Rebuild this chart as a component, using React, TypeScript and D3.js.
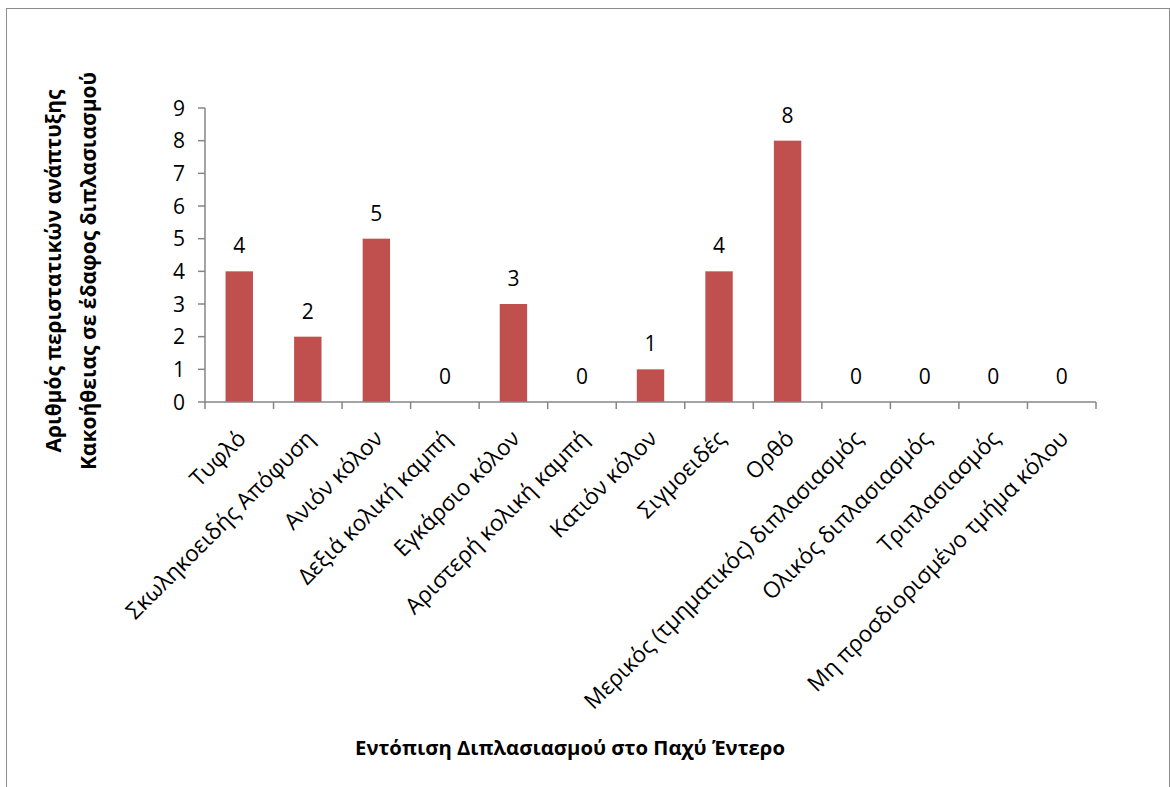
import React from "react";
import * as d3 from "d3";

// Duplication site along the large bowel and number of cases with malignancy
const categories: string[] = [
  "Τυφλό",
  "Σκωληκοειδής Απόφυση",
  "Ανιόν κόλον",
  "Δεξιά κολική καμπή",
  "Εγκάρσιο κόλον",
  "Αριστερή κολική καμπή",
  "Κατιόν κόλον",
  "Σιγμοειδές",
  "Ορθό",
  "Μερικός (τμηματικός) διπλασιασμός",
  "Ολικός διπλασιασμός",
  "Τριπλασιασμός",
  "Μη προσδιορισμένο τμήμα κόλου",
];
const cases: number[] = [4, 2, 5, 0, 3, 0, 1, 4, 8, 0, 0, 0, 0];
const yTicks: number[] = [0, 1, 2, 3, 4, 5, 6, 7, 8, 9];

const xTitle = "Εντόπιση Διπλασιασμού στο Παχύ Έντερο";
const yTitleLines = [
  "Αριθμός περιστατικών ανάπτυξης",
  "Κακοήθειας σε έδαφος διπλασιασμού",
];

const W = 1170;
const H = 787;
const plot = { left: 205, right: 1096, top: 108, bottom: 402 };
const FONT = "'Open Sans', 'Noto Sans', sans-serif";
const BAR = "#C0504D";
const AXIS = "#868686";

export default function App() {
  const x = d3
    .scaleBand<string>()
    .domain(categories)
    .range([plot.left, plot.right])
    .paddingInner(0.6)
    .paddingOuter(0.3);
  const y = d3.scaleLinear().domain([0, 9]).range([plot.bottom, plot.top]);
  const step = x.step();
  const x0 = plot.left;

  return (
    <svg
      width={W}
      height={H}
      style={{ position: "absolute", left: 0, top: 0, background: "#fff" }}
      fontFamily={FONT}
    >
      <rect x={6.5} y={8.5} width={1163} height={790} fill="#fff" stroke="#8c8c8c" strokeWidth={1} />

      {/* bars */}
      {categories.map((c, i) => (
        <rect
          key={c}
          x={x(c)}
          y={y(cases[i])}
          width={x.bandwidth()}
          height={plot.bottom - y(cases[i])}
          fill={BAR}
        />
      ))}

      {/* y axis */}
      <line x1={plot.left} x2={plot.left} y1={plot.top} y2={plot.bottom} stroke={AXIS} strokeWidth={1.5} />
      {yTicks.map((t) => (
        <g key={t}>
          <line x1={plot.left - 7} x2={plot.left} y1={y(t)} y2={y(t)} stroke={AXIS} strokeWidth={1.5} />
          <text x={plot.left - 20} y={y(t)} dy="0.36em" textAnchor="end" fontSize={21} fill="#000">
            {t}
          </text>
        </g>
      ))}

      {/* x axis */}
      <line x1={plot.left} x2={plot.right} y1={plot.bottom} y2={plot.bottom} stroke={AXIS} strokeWidth={1.5} />
      {d3.range(categories.length + 1).map((i) => (
        <line
          key={i}
          x1={x0 + i * step}
          x2={x0 + i * step}
          y1={plot.bottom}
          y2={plot.bottom + 7}
          stroke={AXIS}
          strokeWidth={1.5}
        />
      ))}

      {/* value labels */}
      {categories.map((c, i) => (
        <text
          key={c}
          x={(x(c) as number) + x.bandwidth() / 2}
          y={y(cases[i]) - 18}
          textAnchor="middle"
          fontSize={21}
          fill="#000"
        >
          {cases[i]}
        </text>
      ))}

      {/* category labels */}
      {categories.map((c) => {
        const cx = (x(c) as number) + x.bandwidth() / 2;
        return (
          <text
            key={c}
            transform={`translate(${cx + 8},${plot.bottom + 38}) rotate(-45)`}
            textAnchor="end"
            fontSize={22.5}
            fill="#000"
          >
            {c}
          </text>
        );
      })}

      {/* axis titles */}
      <text x={570} y={755} textAnchor="middle" fontSize={20.3} fontWeight="bold" fill="#000">
        {xTitle}
      </text>
      <text transform="translate(0,271) rotate(-90)" textAnchor="middle" fontSize={21} fontWeight="bold" fill="#000">
        <tspan x={0} y={61}>{yTitleLines[0]}</tspan>
        <tspan x={0} y={96}>{yTitleLines[1]}</tspan>
      </text>
    </svg>
  );
}
